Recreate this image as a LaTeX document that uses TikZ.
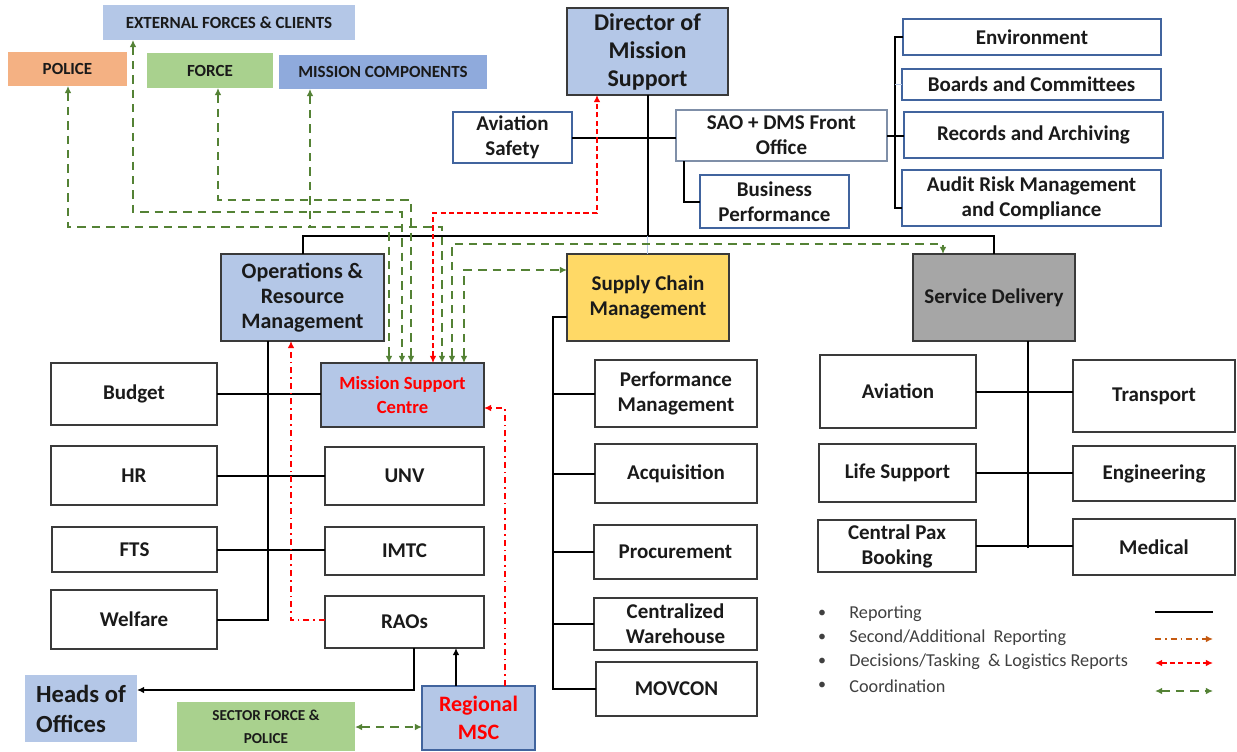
\documentclass[tikz,border=0pt]{standalone}
\usepackage{fontspec}
\setmainfont{Carlito}
\usetikzlibrary{arrows.meta}
\definecolor{lb}{HTML}{B4C7E7}
\definecolor{mcb}{HTML}{8FAADC}
\definecolor{org}{HTML}{F4B183}
\definecolor{grf}{HTML}{A9D18E}
\definecolor{yel}{HTML}{FFD966}
\definecolor{gry}{HTML}{A6A6A6}
\definecolor{grl}{HTML}{548235}
\definecolor{rd}{HTML}{FF0000}
\definecolor{bdb}{HTML}{41649E}
\definecolor{bdg}{HTML}{3A3A3A}
\definecolor{bdsao}{HTML}{7F8FA8}
\definecolor{txt}{HTML}{1A1A1A}
\definecolor{legt}{HTML}{404040}
\definecolor{orl}{HTML}{C55A11}
\newcommand\mkbox[6][]{\node[#1, minimum width={(#5-#3)*0.5pt}, minimum height={(#6-#4)*0.5pt}] (#2) at ({(#3+#5)/2},{(#4+#6)/2})}
\tikzset{
  box/.style={draw=bdg, line width=0.9pt, fill=white, inner sep=1pt, outer sep=0pt, align=center, text=txt, font=\bfseries\fontsize{10.5}{12.5}\selectfont},
  bluebox/.style={box, draw=bdb, line width=0.8pt},
  flat/.style={draw=none, inner sep=1pt, outer sep=0pt, align=center, text=txt, font=\bfseries\fontsize{8.5}{10}\selectfont},
  tip/.tip={Latex[length=3.6pt,width=3.4pt]},
  rep/.style={line width=1pt, black},
  coord/.style={grl, line width=1pt, dash pattern=on 4.2pt off 3pt, tip-tip},
  dec/.style={rd, line width=1pt, dash pattern=on 2.6pt off 1.6pt, tip-tip},
  sec/.style={rd, line width=1pt, dash pattern=on 3pt off 2pt on 0.8pt off 2pt, -tip},
  legtext/.style={anchor=west, text=legt, inner sep=0pt, font=\fontsize{9.1}{10}\selectfont},
}
\begin{document}
\begin{tikzpicture}[x=0.5pt,y=-0.5pt]
\useasboundingbox[fill=white] (0,0) rectangle (1237,751);

% external boxes
\mkbox[flat, fill=lb]{ext}{103}{5}{355}{40}{EXTERNAL FORCES \& CLIENTS};
\mkbox[flat, fill=org]{police}{8}{52}{127}{86}{POLICE};
\mkbox[flat, fill=grf]{force}{147}{53}{273}{88}{FORCE};
\mkbox[flat, fill=mcb]{mc}{279}{55}{487}{89}{MISSION COMPONENTS};

% top
\mkbox[box, fill=lb, font=\bfseries\fontsize{12}{14}\selectfont]{dir}{567}{8}{728}{95}{Director of\\Mission\\Support};
\mkbox[bluebox]{avs}{453}{112}{572}{163}{Aviation\\Safety};
\mkbox[box, draw=bdsao, line width=0.8pt]{sao}{676}{110}{887}{161}{SAO + DMS Front\\Office};
\mkbox[bluebox]{bp}{700}{175}{849}{228}{Business\\Performance};
\mkbox[bluebox]{env}{903}{19}{1161}{55}{Environment};
\mkbox[bluebox]{boards}{902}{69}{1161}{100}{Boards and Committees};
\mkbox[bluebox]{rec}{904}{112}{1163}{158}{Records and Archiving};
\mkbox[bluebox]{audit}{902}{170}{1161}{226}{Audit Risk Management\\and Compliance};

% second level
\mkbox[box, fill=lb, font=\bfseries\fontsize{11}{12.5}\selectfont]{orm}{221}{254}{384}{341}{Operations \&\\Resource\\Management};
\mkbox[box, fill=yel]{scm}{567}{254}{729}{341}{Supply Chain\\Management};
\mkbox[box, fill=gry]{sd}{913}{254}{1075}{341}{Service Delivery};

% ORM children
\mkbox[box]{budget}{51}{363}{217}{425}{Budget};
\mkbox[box]{hr}{51}{446}{217}{505}{HR};
\mkbox[box]{fts}{52}{527}{217}{572}{FTS};
\mkbox[box]{welfare}{51}{590}{217}{649}{Welfare};
\mkbox[box, fill=lb, text=rd, font=\bfseries\fontsize{9.3}{12}\selectfont]{msc}{321}{363}{484}{427}{Mission Support\\Centre};
\mkbox[box]{unv}{325}{447}{484}{505}{UNV};
\mkbox[box]{imtc}{325}{527}{484}{575}{IMTC};
\mkbox[box]{raos}{325}{596}{484}{648}{RAOs};
\mkbox[flat, fill=lb, align=left, font=\bfseries\fontsize{12.3}{15}\selectfont]{heads}{25}{675}{137}{742}{Heads of\\Offices};
\mkbox[bluebox, fill=lb, text=rd, font=\bfseries\fontsize{11}{14}\selectfont]{rmsc}{422}{686}{535}{750}{Regional\\MSC};
\mkbox[flat, fill=grf, font=\bfseries\fontsize{7.6}{11.5}\selectfont]{sfp}{177}{702}{355}{751}{SECTOR FORCE \&\\POLICE};

% SCM children
\mkbox[box]{pm}{595}{360}{757}{427}{Performance\\Management};
\mkbox[box]{acq}{595}{444}{757}{503}{Acquisition};
\mkbox[box]{proc}{594}{525}{757}{579}{Procurement};
\mkbox[box]{cw}{594}{598}{757}{650}{Centralized\\Warehouse};
\mkbox[box]{mov}{596}{662}{757}{716}{MOVCON};

% SD children
\mkbox[box]{avi}{820}{355}{976}{428}{Aviation};
\mkbox[box]{trans}{1073}{360}{1235}{432}{Transport};
\mkbox[box]{life}{819}{444}{976}{502}{Life Support};
\mkbox[box]{eng}{1073}{446}{1235}{501}{Engineering};
\mkbox[box]{cpb}{818}{520}{976}{572}{Central Pax\\Booking};
\mkbox[box]{med}{1073}{519}{1235}{575}{Medical};

% ---------- reporting lines ----------
\coordinate (busL) at (302,236);
\draw[rep] (dir.south) -- (dir.south |- busL);
\draw[rep] (orm.north) -- (orm.north |- busL) -- (sd.north |- busL) -- (sd.north);
\draw[lb, line width=0.7pt] (dir.south |- busL) -- (dir.south |- scm.north);
\draw[rep] (avs.east) -- (avs.east -| sao.west);
\coordinate (bpx) at (684,0);
\draw[rep] (bpx |- sao.south) -- (bpx |- bp.west) -- (bp.west);
\coordinate (brk) at (895,0);
\draw[rep] (env.west) -- (env.west -| brk) -- ([yshift=-5pt]audit.west -| brk) -- ([yshift=-5pt]audit.west);
\draw[rep] (sao.east) -- (sao.east -| rec.west);
\draw[lb, line width=0.8pt] (boards.west -| brk) -- (boards.west);

% ORM branch
\coordinate (ov) at (268,0);
\draw[rep] (ov |- orm.south) -- (ov |- welfare.east) -- (welfare.east);
\draw[rep] (budget.east) -- (budget.east -| msc.west);
\draw[rep] (hr.east) -- (hr.east -| unv.west);
\draw[rep] (fts.east) -- (fts.east -| imtc.west);
\coordinate (raoX) at (414,690);
\draw[rep, -tip] (raoX |- raos.south) -- (raoX) -- (raoX -| heads.east);
\coordinate (rmX) at (456,0);
\draw[rep, -tip] (rmX |- rmsc.north) -- (rmX |- raos.south);

% SCM branch
\coordinate (sv) at (553,317);
\draw[rep] (sv -| scm.west) -- (sv) -- (sv |- mov.west) -- (mov.west);
\draw[rep] (sv |- pm.west) -- (pm.west);
\draw[rep] (sv |- acq.west) -- (acq.west);
\draw[rep] (sv |- proc.west) -- (proc.west);
\draw[rep] (sv |- cw.west) -- (cw.west);

% SD branch
\coordinate (dv) at (1028,548);
\draw[rep] (dv |- sd.south) -- (dv);
\draw[rep] (avi.east) -- (avi.east -| trans.west);
\draw[rep] (life.east) -- (life.east -| eng.west);
\draw[rep] (cpb.east) -- (cpb.east -| med.west);

% ---------- second reporting (red dash-dot) ----------
\coordinate (rd1) at (291,620);
\draw[sec] (rd1 -| raos.west) -- (rd1) -- (rd1 |- orm.south);
\coordinate (rd2) at (505,408);
\draw[sec] (rd2 |- rmsc.north) -- (rd2) -- (rd2 -| msc.east);

% ---------- decisions (red dashed) ----------
\coordinate (rdA) at (433,213);
\coordinate (rdB) at (597,213);
\draw[dec] (rdA |- msc.north) -- (rdA) -- (rdB) -- (rdB |- dir.south);

% ---------- coordination (green dashed) ----------
\coordinate (gP1) at (68,227);  \coordinate (gP2) at (389,227);
\coordinate (gE1) at (133,212); \coordinate (gE2) at (402,212);
\coordinate (gF1) at (218,200); \coordinate (gF2) at (411,200);
\coordinate (gM1) at (310,227); \coordinate (gM2) at (442,227);
\coordinate (gS1) at (452,244); \coordinate (gS2) at (943,244);
\coordinate (gC1) at (464,270);
\draw[coord] (gP1 |- police.south) -- (gP1) -- (gP2) -- (gP2 |- msc.north);
\draw[coord] (gE1 |- ext.south) -- (gE1) -- (gE2) -- (gE2 |- msc.north);
\draw[coord] (gF1 |- force.south) -- (gF1) -- (gF2) -- (gF2 |- msc.north);
\draw[coord] (gM1 |- mc.south) -- (gM1) -- (gM2) -- (gM2 |- msc.north);
\draw[coord] (gS1 |- msc.north) -- (gS1) -- (gS2) -- (gS2 |- sd.north);
\draw[coord] (gC1 |- msc.north) -- (gC1) -- (gC1 -| scm.west);
\coordinate (sfy) at (0,727);
\draw[coord] (sfy -| sfp.east) -- (sfy -| rmsc.west);

% ---------- legend ----------
\foreach \yy/\nm in {614/b1,638/b2,662/b3,686/b4}{\node[text=legt, inner sep=0pt, font=\fontsize{8}{9}\selectfont] (\nm) at (822,\yy) {\textbullet};}
\node[legtext] (l1) at (849,614) {Reporting};
\node[legtext] (l2) at (849,638) {Second/Additional\ \ Reporting};
\node[legtext] (l3) at (849,662) {Decisions/Tasking\ \ \& Logistics Reports};
\node[legtext] (l4) at (849,686) {Coordination};
\coordinate (la1) at (1155,612); \coordinate (lb1) at (1213,612);
\coordinate (la2) at (1155,639); \coordinate (lb2) at (1213,639);
\coordinate (la3) at (1155,663); \coordinate (lb3) at (1213,663);
\coordinate (la4) at (1155,691); \coordinate (lb4) at (1213,691);
\draw[rep] (la1) -- (lb1);
\draw[orl, line width=1pt, dash pattern=on 3pt off 2pt on 0.8pt off 2pt, -tip] (la2) -- (lb2);
\draw[dec] (la3) -- (lb3);
\draw[coord] (la4) -- (lb4);
\end{tikzpicture}
\end{document}
